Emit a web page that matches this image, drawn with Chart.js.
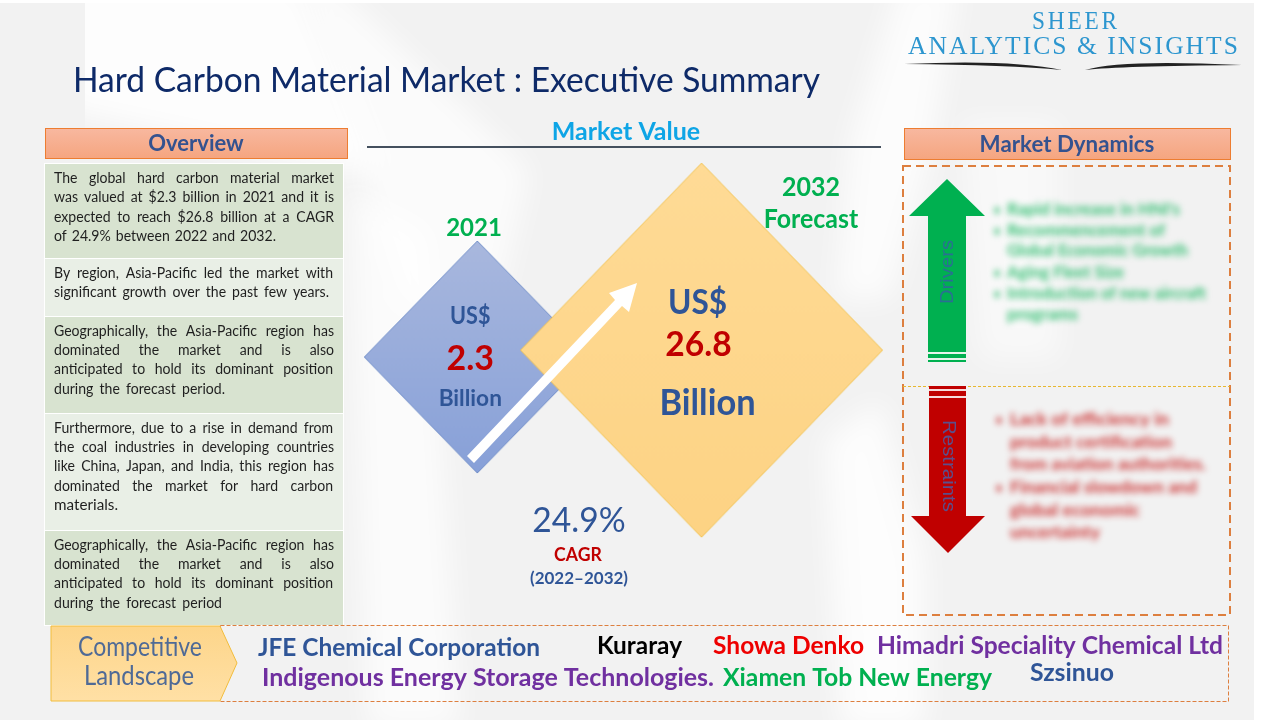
<!DOCTYPE html>
<html>
<head>
<meta charset="utf-8">
<title>Hard Carbon Material Market</title>
<script src="https://cdn.jsdelivr.net/npm/chart.js@4"></script>
<style>
  html, body { margin: 0; padding: 0; background: #fff; }
  canvas { display: block; }
</style>
</head>
<body>
<canvas id="summaryChart" width="1280" height="720"></canvas>
<script>
// Datos
const years = [2021, 2032];
const marketValues = [2.3, 26.8];
const valueUnit = 'Billion';
const currency = 'US$';
const cagrText = '24.9%';
const cagrPeriod = '(2022–2032)';

const overviewLines = [
  'The global hard carbon material market',
  'was valued at $2.3 billion in 2021 and it is',
  'expected to reach $26.8 billion at a CAGR',
  'of 24.9% between 2022 and 2032.',
  'By region, Asia-Pacific led the market with',
  'significant growth over the past few years.',
  'Geographically, the Asia-Pacific region has',
  'dominated the market and is also',
  'anticipated to hold its dominant position',
  'during the forecast period.',
  'Furthermore, due to a rise in demand from',
  'the coal industries in developing countries',
  'like China, Japan, and India, this region has',
  'dominated the market for hard carbon',
  'materials.',
  'Geographically, the Asia-Pacific region has',
  'dominated the market and is also',
  'anticipated to hold its dominant position',
  'during the forecast period'
];
const driverLines = ["Rapid increase in HNI's", 'Recommencement of', 'Global Economic Growth', 'Aging Fleet Size', 'Introduction of new aircraft', 'programs'];
const restraintLines = ['Lack of efficiency in', 'product certification', 'from aviation authorities.', 'Financial slowdown and', 'global economic', 'uncertainty'];
const companies = ['JFE Chemical Corporation', 'Kuraray', 'Showa Denko', 'Himadri Speciality Chemical Ltd', 'Indigenous Energy Storage Technologies.', 'Xiamen Tob New Energy', 'Szsinuo'];

// posiciones de las lineas: [y, derecha]
const overviewLayout = [
  [178, 334], [197, 334], [217, 334], [236, 276],
  [273, 333], [292, 329],
  [331, 334], [350, 334], [369, 333], [389, 225],
  [428, 333], [447, 334], [466, 334], [486, 333], [505, 118],
  [545, 334], [564, 334], [583, 333], [603, 222]
];
const overviewRows = [[164, 94, '#d8e3d0'], [259, 57, '#e9efe6'], [317, 96, '#d8e3d0'], [414, 116, '#e9efe6'], [531, 94, '#d8e3d0']];
const driverLayout = [[210, 1180, 1], [231, 1165, 1], [251, 1188, 0], [273, 1124, 1], [294, 1206, 1], [315, 1078, 0]];
const restraintLayout = [[420, 1169, 1], [443, 1172, 0], [465, 1206, 0], [488, 1197, 1], [511, 1140, 0], [533, 1100, 0]];
const companyLayout = [
  [258, 540, 648, '#2f5597'], [597, 682, 646, '#000000'], [713, 864, 646, '#ee0000'], [877, 1223, 646, '#7030a0'],
  [262, 714, 678, '#7030a0'], [723, 992, 678, '#00b050'], [1030, 1114, 673, '#2f5597']
];

const SANS = 'Lato, Carlito, sans-serif';

// texto ajustado a un ancho dado
function fitText(ctx, str, left, right, y, font, color, spacing) {
  ctx.save();
  ctx.font = font;
  ctx.fillStyle = color;
  ctx.textAlign = 'left';
  ctx.textBaseline = 'middle';
  if (spacing) ctx.letterSpacing = spacing;
  const natural = ctx.measureText(str).width;
  ctx.translate(left, y);
  ctx.scale((right - left) / natural, 1);
  ctx.fillText(str, 0, 0);
  ctx.restore();
}

function centerText(ctx, str, x, y, font, color, scaleX) {
  ctx.save();
  ctx.font = font;
  ctx.fillStyle = color;
  ctx.textAlign = 'center';
  ctx.textBaseline = 'middle';
  ctx.translate(x, y);
  ctx.scale(scaleX || 1, 1);
  ctx.fillText(str, 0, 0);
  ctx.restore();
}

// linea justificada: reparte el sobrante en los espacios
function justifyText(ctx, str, left, right, y, font, color) {
  const sx = 0.97;
  ctx.save();
  ctx.font = font;
  ctx.fillStyle = color;
  ctx.textAlign = 'left';
  ctx.textBaseline = 'middle';
  const natural = ctx.measureText(str).width;
  const spaces = str.split(' ').length - 1;
  const extra = spaces ? ((right - left) / sx - natural) / spaces : 0;
  ctx.translate(left, y);
  ctx.scale(spaces ? sx : (right - left) / natural, 1);
  ctx.wordSpacing = extra + 'px';
  ctx.fillText(str, 0, 0);
  ctx.restore();
}

function poly(ctx, pts) {
  ctx.beginPath();
  pts.forEach((p, i) => i ? ctx.lineTo(p[0], p[1]) : ctx.moveTo(p[0], p[1]));
  ctx.closePath();
}

function headerBox(ctx, x, y, w, h) {
  const g = ctx.createLinearGradient(0, y, 0, y + h);
  g.addColorStop(0, '#f8b8a0');
  g.addColorStop(1, '#f5a57f');
  ctx.fillStyle = g;
  ctx.fillRect(x, y, w, h);
  ctx.strokeStyle = '#ed7d31';
  ctx.lineWidth = 1;
  ctx.strokeRect(x + 0.5, y + 0.5, w - 1, h - 1);
}

// rombo con degradado, usado como pointStyle
function diamond(halfW, halfH, top, bottom, border) {
  const c = document.createElement('canvas');
  c.width = halfW * 2 + 2;
  c.height = halfH * 2 + 2;
  const g = c.getContext('2d');
  const grad = g.createLinearGradient(0, 0, 0, c.height);
  grad.addColorStop(0, top);
  grad.addColorStop(1, bottom);
  poly(g, [[halfW + 1, 1], [halfW * 2 + 1, halfH + 1], [halfW + 1, halfH * 2 + 1], [1, halfH + 1]]);
  g.fillStyle = grad;
  g.fill();
  g.strokeStyle = border;
  g.lineWidth = 1;
  g.stroke();
  return c;
}

const backdrop = {
  id: 'backdrop',
  beforeDraw(chart) {
    const ctx = chart.ctx;
    ctx.save();
    ctx.fillStyle = '#ffffff';
    ctx.fillRect(0, 0, 1280, 720);
    ctx.beginPath();
    ctx.rect(0, 3, 1254, 717);
    ctx.clip();
    ctx.fillStyle = '#f2f2f2';
    ctx.fillRect(0, 3, 1254, 717);

    // vetas claras del fondo
    ctx.save();
    ctx.beginPath();
    ctx.rect(85, 3, 1100, 717);
    ctx.clip();
    ctx.filter = 'blur(14px)';
    ctx.fillStyle = 'rgba(255,255,255,0.85)';
    poly(ctx, [[60, -20], [300, -20], [380, 170], [340, 170], [60, 110]]);
    ctx.fill();
    ctx.restore();

    ctx.filter = 'blur(14px)';
    ctx.fillStyle = 'rgba(255,255,255,0.7)';
    poly(ctx, [[300, -20], [330, -20], [530, 170], [490, 340], [400, 300]]);
    ctx.fill();
    ctx.fillStyle = 'rgba(255,255,255,0.7)';
    poly(ctx, [[350, 190], [430, 230], [460, 730], [367, 730]]);
    ctx.fill();
    ctx.fillStyle = 'rgba(255,255,255,0.75)';
    poly(ctx, [[900, -20], [960, -20], [930, 160], [890, 300], [835, 300], [850, 140]]);
    ctx.fill();
    ctx.fillStyle = 'rgba(255,255,255,0.8)';
    poly(ctx, [[825, 440], [880, 400], [925, 560], [925, 730], [840, 730]]);
    ctx.fill();
    ctx.fillStyle = 'rgba(255,255,255,0.5)';
    poly(ctx, [[960, 120], [1060, 120], [1060, 360], [980, 360]]);
    ctx.fill();
    ctx.filter = 'none';
    ctx.restore();
  }
};

const slide = {
  id: 'slide',
  afterDatasetsDraw(chart) {
    const ctx = chart.ctx;
    const xs = chart.scales.x;
    const ys = chart.scales.y;
    const px = i => xs.getPixelForValue(years[i]);
    const py = i => ys.getPixelForValue(marketValues[i]);
    const blue = '#2f5597';
    const red = '#c00000';
    const green = '#00b050';

    // titulo y logo
    fitText(ctx, 'Hard Carbon Material Market : Executive Summary', 73, 820, 81, '34px ' + SANS, '#0e2a68');
    fitText(ctx, 'SHEER', 1032, 1120, 22, '25px "Liberation Serif", serif', '#2d96cf', '3px');
    fitText(ctx, 'ANALYTICS & INSIGHTS', 908, 1240, 47, '25px "Liberation Serif", serif', '#2d96cf', '2px');
    ctx.fillStyle = '#222';
    ctx.beginPath();
    ctx.moveTo(904, 64);
    ctx.quadraticCurveTo(1010, 65, 1062, 70);
    ctx.quadraticCurveTo(1010, 59, 904, 64);
    ctx.moveTo(1085, 70);
    ctx.quadraticCurveTo(1120, 66, 1242, 65);
    ctx.quadraticCurveTo(1120, 59, 1085, 70);
    ctx.fill();

    // columna izquierda
    headerBox(ctx, 45, 128, 303, 31);
    centerText(ctx, 'Overview', 196, 144, 'bold 22px ' + SANS, '#34528f');
    ctx.fillStyle = '#ffffff';
    ctx.fillRect(44, 163, 300, 463);
    overviewRows.forEach(r => {
      ctx.fillStyle = r[2];
      ctx.fillRect(45, r[0], 298, r[1]);
    });
    overviewLines.forEach((line, i) => {
      justifyText(ctx, line, 54, overviewLayout[i][1], overviewLayout[i][0], '14.5px ' + SANS, '#1f1f1f');
    });

    // encabezado central
    centerText(ctx, 'Market Value', 626, 132, 'bold 25px ' + SANS, '#0ea5e6');
    ctx.fillStyle = '#44505e';
    ctx.fillRect(367, 146, 514, 2);

    // etiquetas de los rombos
    centerText(ctx, String(years[0]), 474, 228, 'bold 24px ' + SANS, green);
    centerText(ctx, currency, px(0) - 7, py(0) - 41, 'bold 24px ' + SANS, blue, 0.9);
    centerText(ctx, String(marketValues[0]), px(0) - 7, py(0) + 2, 'bold 34px ' + SANS, red);
    centerText(ctx, valueUnit, px(0) - 7, py(0) + 42, 'bold 22px ' + SANS, blue, 1.03);
    centerText(ctx, String(years[1]), 811, 188, 'bold 26px ' + SANS, green, 0.96);
    centerText(ctx, 'Forecast', 811, 220, 'bold 26px ' + SANS, green, 0.96);
    centerText(ctx, currency, px(1) - 4, py(1) - 47, 'bold 34px ' + SANS, blue, 0.93);
    centerText(ctx, String(marketValues[1]), px(1) - 3, py(1) - 5, 'bold 35px ' + SANS, red, 0.96);
    centerText(ctx, valueUnit, px(1) + 6, py(1) + 53, 'bold 37px ' + SANS, blue, 0.93);

    // flecha blanca
    ctx.fillStyle = '#ffffff';
    poly(ctx, [[467, 456], [474, 463], [622, 306], [629, 312], [637, 283], [609, 293], [615, 300]]);
    ctx.fill();

    centerText(ctx, cagrText, 579, 521, '35px ' + SANS, blue, 0.96);
    centerText(ctx, 'CAGR', 578, 555, 'bold 19px ' + SANS, red, 0.93);
    centerText(ctx, cagrPeriod, 579, 579, 'bold 17px ' + SANS, blue);

    // columna derecha
    headerBox(ctx, 904, 128, 327, 32);
    centerText(ctx, 'Market Dynamics', 1067, 145, 'bold 23px ' + SANS, '#34528f', 0.97);
    ctx.strokeStyle = '#dd7f3f';
    ctx.lineWidth = 2;
    ctx.setLineDash([8, 5]);
    ctx.strokeRect(903, 166, 327, 449);
    ctx.setLineDash([3, 2]);
    ctx.lineWidth = 1;
    ctx.strokeStyle = '#e8b830';
    ctx.beginPath();
    ctx.moveTo(903, 386.5);
    ctx.lineTo(1230, 386.5);
    ctx.stroke();
    ctx.setLineDash([]);

    // flecha verde
    ctx.fillStyle = green;
    poly(ctx, [[947, 179], [985, 216], [966, 216], [966, 362], [928, 362], [928, 216], [909, 216]]);
    ctx.fill();
    ctx.fillStyle = '#e8f5ec';
    ctx.fillRect(928, 352, 38, 2);
    ctx.fillRect(928, 358, 38, 2);
    // flecha roja
    ctx.fillStyle = red;
    poly(ctx, [[929, 386], [966, 386], [966, 516], [985, 516], [948, 553], [911, 516], [929, 516]]);
    ctx.fill();
    ctx.fillStyle = '#f6dcdc';
    ctx.fillRect(929, 389, 37, 2);
    ctx.fillRect(929, 396, 37, 2);

    ctx.save();
    ctx.translate(948, 272);
    ctx.rotate(-Math.PI / 2);
    fitText(ctx, 'Drivers', -32, 32, 0, '18px "Liberation Sans", sans-serif', '#2a6f93');
    ctx.restore();
    ctx.save();
    ctx.translate(948, 466);
    ctx.rotate(Math.PI / 2);
    fitText(ctx, 'Restraints', -46, 46, 0, '18px "Liberation Sans", sans-serif', '#5a4f8c');
    ctx.restore();

    // textos difuminados
    ctx.save();
    ctx.filter = 'blur(3px)';
    ctx.globalAlpha = 0.8;
    driverLines.forEach((line, i) => {
      const l = driverLayout[i];
      fitText(ctx, line, 1007, l[1], l[0], 'bold 17px ' + SANS, green);
      if (l[2]) fitText(ctx, '•', 994, 1000, l[0], 'bold 16px ' + SANS, green);
    });
    restraintLines.forEach((line, i) => {
      const l = restraintLayout[i];
      fitText(ctx, line, 1010, l[1], l[0], 'bold 17px ' + SANS, red);
      if (l[2]) fitText(ctx, '•', 996, 1002, l[0], 'bold 16px ' + SANS, red);
    });
    ctx.restore();

    // panorama competitivo
    ctx.strokeStyle = '#dd7f3f';
    ctx.lineWidth = 1;
    ctx.setLineDash([4, 2]);
    ctx.strokeRect(220.5, 625.5, 1008, 76);
    ctx.setLineDash([]);
    const g = ctx.createLinearGradient(0, 626, 0, 701);
    g.addColorStop(0, '#fdd58a');
    g.addColorStop(1, '#ffe0a5');
    poly(ctx, [[51, 626], [220, 626], [237, 663], [220, 701], [51, 701]]);
    ctx.fillStyle = g;
    ctx.fill();
    ctx.strokeStyle = '#f2bd3c';
    ctx.stroke();
    fitText(ctx, 'Competitive', 78, 202, 648, '400 26px ' + SANS, '#4f6a96');
    fitText(ctx, 'Landscape', 84, 194, 677, '400 26px ' + SANS, '#4f6a96');
    companies.forEach((name, i) => {
      const c = companyLayout[i];
      fitText(ctx, name, c[0], c[1], c[2], 'bold 25px ' + SANS, c[3]);
    });
  }
};

new Chart(document.getElementById('summaryChart'), {
  type: 'scatter',
  data: {
    datasets: [{
      data: years.map((y, i) => ({ x: y, y: marketValues[i] })),
      pointStyle: [
        diamond(113, 116, '#a9b8de', '#87a0d8', '#6f8dc8'),
        diamond(181, 187, '#ffdb96', '#fdd384', '#f2c250')
      ]
    }]
  },
  options: {
    responsive: false,
    animation: false,
    layout: { padding: 0 },
    events: [],
    plugins: { legend: { display: false }, tooltip: { enabled: false } },
    scales: {
      x: { type: 'linear', display: false, min: 1997.832, max: 2060.134 },
      y: { type: 'linear', display: false, min: -1268.2, max: 1251.8 }
    }
  },
  plugins: [backdrop, slide]
});
</script>
</body>
</html>
